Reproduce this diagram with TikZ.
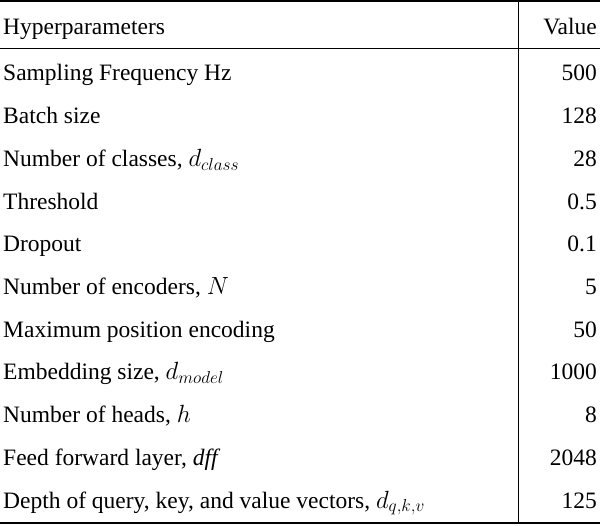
\documentclass[tikz,border=0pt]{standalone}
\usepackage{fontspec}
\setmainfont{Liberation Serif}
\begin{document}
\begin{tikzpicture}[x=1pt,y=-1pt,
  lab/.style={anchor=base west,inner sep=0pt,font=\fontsize{23.5}{28}\selectfont},
  val/.style={anchor=base east,inner sep=0pt,font=\fontsize{23.5}{28}\selectfont}]
\useasboundingbox (0,0) rectangle (600,526);
\draw[line width=1.6pt] (0,1) -- (600,1);
\draw[line width=0.8pt] (0,48) -- (600,48);
\draw[line width=1.6pt] (0,523) -- (600,523);
\draw[line width=0.8pt] (518,1) -- (518,523);
\node[lab] (h1) at (3,35) {Hyperparameters};
\node[val] (h2) at (597,35) {Value};
\foreach \i/\t/\v in {0/Sampling Frequency Hz/500,1/Batch size/128,2/{Number of classes, $d_{class}$}/28,3/Threshold/0.5,4/Dropout/0.1,5/{Number of encoders, $N$}/5,6/Maximum position encoding/50,7/{Embedding size, $d_{model}$}/1000,8/{Number of heads, $h$}/8,9/{Feed forward layer, $\mathit{dff}$}/2048,10/{Depth of query, key, and value vectors, $d_{q,k,v}$}/125}{
  \node[lab] (l\i) at (3,{81+42.7*\i}) {\t};
  \node[val] (v\i) at (597,{81+42.7*\i}) {\v};
}
\end{tikzpicture}
\end{document}
